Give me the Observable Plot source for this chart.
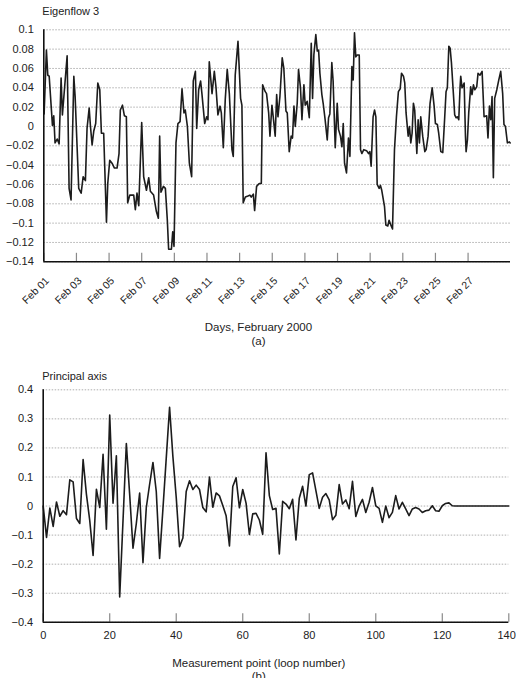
<!DOCTYPE html>
<html>
<head>
<meta charset="utf-8">
<script src="https://cdn.jsdelivr.net/npm/d3@7"></script>
<script src="https://cdn.jsdelivr.net/npm/@observablehq/plot@0.6"></script>
<style>
html,body{margin:0;padding:0;background:#fff;}
#wrap{position:relative;width:516px;height:678px;overflow:hidden;}
#top,#bottom{position:absolute;left:0;}
#top{top:0;}
#bottom{top:352px;}
</style>
</head>
<body>
<div id="wrap"><div id="top"></div><div id="bottom"></div></div>
<script>
// ---------- Panel (a): Eigenflow 3 ----------
const topTitle = "Eigenflow 3";
const topXLabel = "Days, February 2000";
const topTag = "(a)";
// time offsets in days since Feb 01 2000 00:00 (UTC)
const eigenDays = [
  0.02,0.16,0.245,0.33,0.53,0.61,0.69,0.82,0.94,1.06,1.14,1.43,1.55,1.67,1.84,1.92,2.14,2.29,2.41,2.55,
  2.65,2.78,2.86,2.96,3.06,3.18,3.31,3.43,3.53,3.67,3.84,3.92,4.04,4.18,4.33,4.49,4.61,4.69,4.82,4.94,
  5.06,5.14,5.27,5.51,5.61,5.71,5.82,6.0,6.12,6.29,6.43,6.53,6.73,6.9,7.02,7.1,7.18,7.33,7.45,7.57,
  7.65,7.82,7.9,7.98,8.1,8.22,8.35,8.47,8.59,8.67,8.8,8.92,9.06,9.16,9.29,9.37,9.49,9.61,9.69,9.86,
  9.98,10.06,10.14,10.31,10.45,10.55,10.67,10.8,10.88,11.0,11.12,11.24,11.37,11.53,11.61,11.73,11.9,12.06,12.14,12.22,
  12.35,12.51,12.63,12.71,12.84,12.92,13.04,13.2,13.33,13.41,13.57,13.65,13.78,13.86,13.98,14.06,14.18,14.27,14.35,14.47,
  14.61,14.71,14.84,14.92,15.04,15.16,15.24,15.33,15.41,15.53,15.61,15.73,15.82,15.94,16.02,16.14,16.27,16.39,16.47,16.55,
  16.67,16.76,16.84,16.92,17.04,17.12,17.24,17.37,17.45,17.53,17.65,17.73,17.86,17.98,18.06,18.18,18.27,18.35,18.43,18.55,
  18.67,18.76,18.88,18.96,19.04,19.12,19.2,19.33,19.41,19.49,19.61,19.78,19.9,19.98,20.06,20.18,20.27,20.35,20.43,20.55,
  20.63,20.71,20.88,20.96,21.08,21.16,21.29,21.37,21.49,21.61,21.73,21.84,21.92,22.04,22.12,22.2,22.33,22.41,22.49,22.57,
  22.65,22.73,22.86,22.94,23.02,23.1,23.22,23.35,23.43,23.55,23.67,23.8,23.92,24.0,24.12,24.2,24.33,24.45,24.57,24.65,
  24.73,24.82,24.9,24.98,25.1,25.18,25.27,25.35,25.43,25.51,25.55,25.63,25.71,25.76,25.84,25.88,25.96,26.04,26.16,26.24,
  26.33,26.41,26.53,26.61,26.73,26.86,26.98,27.14,27.22,27.31,27.39,27.47,27.55,27.63,27.76,27.88,28.0,28.12,28.2,28.29,
  28.41,28.53,28.58
];
const eigenValues = [
  0.013,0.079,0.053,0.052,0.001,0.011,-0.017,-0.013,-0.018,0.05,0.012,0.073,-0.064,-0.076,0.052,0.031,-0.064,-0.069,-0.052,-0.056,
  -0.002,0.019,0,-0.019,-0.005,0.003,0.045,0.038,-0.007,-0.007,-0.099,-0.059,-0.035,-0.038,-0.043,-0.043,-0.028,0.017,0.022,0.011,
  0.010,-0.079,-0.071,-0.071,-0.086,-0.069,-0.082,0.004,-0.052,-0.066,-0.053,-0.067,-0.071,-0.088,-0.095,-0.01,-0.068,-0.062,-0.064,-0.097,
  -0.127,-0.127,-0.109,-0.124,-0.017,0.003,0.005,0.039,0.014,0.017,0,-0.038,-0.052,0.047,0.057,-0.002,0.038,0.047,0.034,0.003,
  0.010,0.007,0.067,0.034,0.057,0.041,0.012,0.021,0.014,-0.022,0.028,0.059,0.034,-0.024,-0.031,0.053,0.088,0.029,0.022,-0.079,
  -0.073,-0.072,-0.071,-0.073,-0.070,-0.087,-0.062,-0.059,-0.059,0.043,0.036,0.034,0.014,-0.01,0.022,0.010,-0.010,0.033,0.010,0.031,
  0.071,0.060,0.016,0.014,-0.026,-0.01,-0.012,0.021,0,0.024,0.059,0.04,0.007,0.043,0.022,0.026,0.009,0.086,0.029,0.074,
  0.095,0.078,0.079,0.055,0.033,0.024,0.007,-0.014,0.009,0.013,0.066,0.047,-0.022,0.024,-0.003,-0.01,-0.021,0.003,-0.038,-0.048,
  -0.012,-0.031,0.062,0.048,0.097,0.072,0.074,0.074,-0.024,-0.028,-0.024,-0.025,-0.028,-0.026,-0.041,0.010,0.017,0.01,-0.06,-0.064,
  -0.061,-0.066,-0.083,-0.102,-0.103,-0.097,-0.103,-0.106,-0.024,0.01,0.036,0.039,0.055,0.052,0.045,0.014,-0.01,0,-0.017,-0.007,
  0.024,0.017,-0.028,0.007,-0.017,0.010,-0.010,-0.026,-0.024,-0.01,0.024,0.040,0.021,0.003,0.002,-0.007,-0.026,-0.027,0.010,0.036,
  0.040,0.083,0.081,0.066,0.034,0.012,0.009,0.010,0.007,0.041,0.052,0.040,0.043,0.045,-0.01,-0.026,-0.014,0.014,0.041,0.033,
  0.043,0.038,0.041,0.055,0.053,0.057,0.010,0.011,-0.012,0.021,0.007,0.031,-0.053,0.029,0.038,0.048,0.057,0.034,0.002,0,
  -0.017,-0.016,-0.017
];
const topYTicks = [-0.14,-0.12,-0.1,-0.08,-0.06,-0.04,-0.02,0,0.02,0.04,0.06,0.08,0.1];
const topXTickDates = ["2000-02-01","2000-02-03","2000-02-05","2000-02-07","2000-02-09","2000-02-11","2000-02-13",
  "2000-02-15","2000-02-17","2000-02-19","2000-02-21","2000-02-23","2000-02-25","2000-02-27"];
const topXDomainDays = [0, 28.6];

// ---------- Panel (b): Principal axis ----------
const botTitle = "Principal axis";
const botXLabel = "Measurement point (loop number)";
const botTag = "(b)";
const principalValues = [
  0,-0.108,-0.007,-0.07,0.014,-0.035,-0.016,-0.03,0.09,0.083,
  -0.043,-0.06,0.16,0.04,-0.05,-0.17,0.058,-0.005,0.178,-0.08,
  0.313,0.01,0.173,-0.313,-0.05,0.215,0.04,-0.145,-0.06,0.045,
  -0.195,-0.005,0.075,0.15,0.05,-0.18,-0.01,0.165,0.34,0.17,
  0.03,-0.14,-0.11,0.05,0.087,0.057,0.072,0.057,-0.005,-0.02,
  0.1,-0.004,0.045,0.035,0.002,-0.033,-0.137,0.067,0.097,-0.006,
  0.057,0.01,-0.098,-0.027,-0.025,-0.048,-0.097,0.183,0.036,-0.012,
  -0.008,-0.165,0.016,0.007,-0.009,0.023,-0.117,0.027,0.068,0,
  0.108,0.114,0.053,-0.008,0.03,0.043,0.021,-0.047,-0.032,0.074,
  0.007,0.021,-0.009,0.085,-0.036,0,0.023,-0.022,0.013,0.064,
  0.001,-0.008,-0.056,0,-0.04,-0.022,0.036,-0.01,0.013,-0.01,
  -0.033,-0.01,-0.005,-0.01,-0.022,-0.016,-0.014,0.001,-0.016,-0.018,
  0.001,0.009,0.011,0.001,0,0,0,0,0,0,
  0,0,0,0,0,0,0,0,0,0,
  0
];
const botYTicks = [-0.4,-0.3,-0.2,-0.1,0,0.1,0.2,0.3,0.4];
const botXTicks = [0,20,40,60,80,100,120,140];

// ---------- build ----------
const FONT = '"Liberation Sans", Arial, Helvetica, sans-serif';
const DAY = 86400000;
const t0 = Date.UTC(2000, 1, 1);
const yFmt = d3.format("~g");

const topData = eigenDays.map((d, i) => ({date: new Date(t0 + d * DAY), value: eigenValues[i]}));
const xTicksTop = topXTickDates.map(s => new Date(s + "T00:00:00Z"));
const xDomTop = topXDomainDays.map(d => new Date(t0 + d * DAY));
const yMinTop = d3.min(topYTicks);

const topPlot = Plot.plot({
  width: 516, height: 352,
  marginTop: 29.3, marginRight: 6, marginBottom: 90.7, marginLeft: 43.3,
  style: {fontFamily: FONT, fontSize: "11px", color: "#222", background: "#fff", overflow: "visible"},
  x: {type: "utc", domain: xDomTop},
  y: {domain: [yMinTop, d3.max(topYTicks)]},
  marks: [
    Plot.gridY(topYTicks, {stroke: "#9a9a9a", strokeOpacity: 1, strokeWidth: 0.8, strokeDasharray: "1.5,1.5"}),
    Plot.ruleX(xTicksTop, {x: d => d, y1: yMinTop, y2: yMinTop, insetBottom: 8.5, stroke: "#8a8a8a", strokeWidth: 1.2}),
    Plot.line(topData, {x: "date", y: "value", stroke: "#1c1c1c", strokeWidth: 1.6}),
    Plot.ruleX([xDomTop[0]], {stroke: "#111", strokeWidth: 1.6}),
    Plot.ruleY([yMinTop], {stroke: "#111", strokeWidth: 1.6}),
    Plot.axisY({ticks: topYTicks, tickFormat: yFmt, tickSize: 0, tickPadding: 10, label: null, fontSize: 11}),
    Plot.axisX({ticks: xTicksTop, tickFormat: d3.utcFormat("%b %d"), tickRotate: -45, textAnchor: "end", lineAnchor: "middle",
      tickSize: 0, tickPadding: 17.2, dx: 3.5, label: null, fontSize: 10.5}),
    Plot.text([topTitle], {text: d => d, frameAnchor: "top-left", dx: -1.5, dy: -18.6, textAnchor: "start", lineAnchor: "middle", fontSize: 11}),
    Plot.text([topXLabel], {text: d => d, frameAnchor: "bottom", dx: -18.7, dy: 65.7, lineAnchor: "middle", fontSize: 11.5}),
    Plot.text([topTag], {text: d => d, frameAnchor: "bottom", dx: -18.7, dy: 80, lineAnchor: "middle", fontSize: 11.5})
  ]
});
document.getElementById("top").appendChild(topPlot);

const botData = principalValues.map((v, i) => ({i, v}));
const yMinBot = d3.min(botYTicks);
const xMaxBot = d3.max(botXTicks);
const botPlot = Plot.plot({
  width: 516, height: 326,
  marginTop: 37.3, marginRight: 7.7, marginBottom: 56.2, marginLeft: 42.7,
  style: {fontFamily: FONT, fontSize: "11px", color: "#222", background: "#fff", overflow: "visible"},
  x: {domain: [d3.min(botXTicks), xMaxBot]},
  y: {domain: [yMinBot, d3.max(botYTicks)]},
  marks: [
    Plot.gridY(botYTicks, {stroke: "#9a9a9a", strokeOpacity: 1, strokeWidth: 0.8, strokeDasharray: "1.5,1.5"}),
    Plot.ruleX(botXTicks, {x: d => d, y1: yMinBot, y2: yMinBot, insetBottom: 8.5, stroke: "#8a8a8a", strokeWidth: 1.2}),
    Plot.line(botData, {x: "i", y: "v", stroke: "#1c1c1c", strokeWidth: 1.6}),
    Plot.ruleX([d3.min(botXTicks)], {stroke: "#111", strokeWidth: 1.6}),
    Plot.ruleY([yMinBot], {stroke: "#111", strokeWidth: 1.6}),
    Plot.axisY({ticks: botYTicks, tickFormat: yFmt, tickSize: 0, tickPadding: 10, label: null, fontSize: 11}),
    Plot.axisX({ticks: botXTicks.filter(t => t !== xMaxBot), tickFormat: d3.format("d"), tickSize: 0, tickPadding: 9, label: null, fontSize: 11}),
    Plot.axisX({ticks: [xMaxBot], tickFormat: d3.format("d"), tickSize: 0, tickPadding: 9, label: null, fontSize: 11, textAnchor: "end", dx: 7}),
    Plot.text([botTitle], {text: d => d, frameAnchor: "top-left", dx: -1, dy: -13.3, textAnchor: "start", lineAnchor: "middle", fontSize: 11}),
    Plot.text([botXLabel], {text: d => d, frameAnchor: "bottom", dx: -17.2, dy: 41, lineAnchor: "middle", fontSize: 11.5}),
    Plot.text([botTag], {text: d => d, frameAnchor: "bottom", dx: -17.2, dy: 54.5, lineAnchor: "middle", fontSize: 11.5})
  ]
});
document.getElementById("bottom").appendChild(botPlot);
</script>
</body>
</html>
